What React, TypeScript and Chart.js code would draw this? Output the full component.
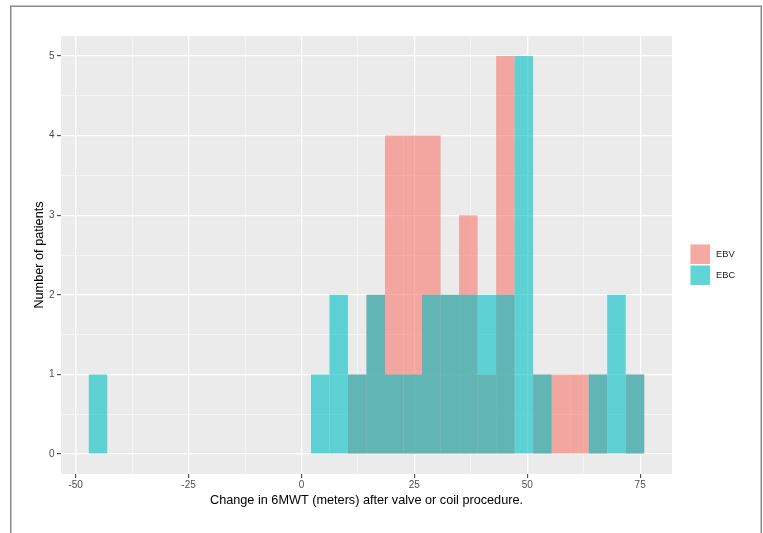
import React, { useEffect, useRef } from "react";
import { Chart, registerables } from "chart.js";

Chart.register(...registerables);

// Histogram bin centres (shared bins, width ~4.1)
const binCenters = [
  -45.05, -40.95, -36.85, -32.75, -28.65, -24.55, -20.45, -16.35, -12.25, -8.15,
  -4.05, 0.05, 4.15, 8.25, 12.35, 16.45, 20.55, 24.65, 28.75, 32.85,
  36.95, 41.05, 45.15, 49.25, 53.35, 57.45, 61.55, 65.65, 69.75, 73.85,
];

const ebvCounts = [
  0, 0, 0, 0, 0, 0, 0, 0, 0, 0,
  0, 0, 0, 0, 1, 2, 4, 4, 4, 2,
  3, 1, 5, 0, 1, 1, 1, 1, 0, 1,
];

const ebcCounts = [
  1, 0, 0, 0, 0, 0, 0, 0, 0, 0,
  0, 0, 1, 2, 1, 2, 1, 1, 2, 2,
  2, 2, 2, 5, 1, 0, 0, 1, 2, 1,
];

const seriesNames = ["EBV", "EBC"];
const xTickValues = [-50, -37.5, -25, -12.5, 0, 12.5, 25, 37.5, 50, 62.5, 75];
const xMajorTicks = [-50, -25, 0, 25, 50, 75];
const yTickValues = [0, 0.5, 1, 1.5, 2, 2.5, 3, 3.5, 4, 4.5, 5];
const yMajorTicks = [0, 1, 2, 3, 4, 5];

const xTitle = "Change in 6MWT (meters) after valve or coil procedure.";
const yTitle = "Number of patients";

const EBV_FILL = "rgba(248,118,109,0.6)";
const EBC_FILL = "rgba(0,191,196,0.6)";
const FONT = "'Liberation Sans', Arial, Helvetica, sans-serif";

const isMajor = (v: number, list: number[]) => list.some((m) => Math.abs(m - v) < 1e-9);

const decorPlugin = {
  id: "decor",
  beforeDraw(chart: any) {
    const { ctx, chartArea } = chart;
    ctx.save();
    ctx.fillStyle = "#ffffff";
    ctx.fillRect(0, 0, chart.width, chart.height);
    ctx.fillStyle = "#EBEBEB";
    ctx.fillRect(chartArea.left, chartArea.top, chartArea.right - chartArea.left, chartArea.bottom - chartArea.top);
    ctx.restore();
  },
  afterDraw(chart: any) {
    const { ctx, chartArea } = chart;
    ctx.save();
    // outer frame
    ctx.strokeStyle = "#8a8a8a";
    ctx.lineWidth = 1.5;
    ctx.beginPath();
    ctx.moveTo(10.75, 533);
    ctx.lineTo(10.75, 6.25);
    ctx.lineTo(761.25, 6.25);
    ctx.lineTo(761.25, 533);
    ctx.stroke();

    // axis titles
    ctx.fillStyle = "#000000";
    ctx.font = `12.7px ${FONT}`;
    ctx.textAlign = "center";
    ctx.textBaseline = "alphabetic";
    ctx.fillText(xTitle, (chartArea.left + chartArea.right) / 2, 504);
    ctx.save();
    ctx.translate(43, (chartArea.top + chartArea.bottom) / 2);
    ctx.rotate(-Math.PI / 2);
    ctx.fillText(yTitle, 0, 0);
    ctx.restore();

    // legend
    const fills = [EBV_FILL, EBC_FILL];
    const keyX = 690.5;
    const keyY = [244.5, 265.5];
    const keySize = 19.5;
    for (let i = 0; i < 2; i++) {
      ctx.fillStyle = "#F2F2F2";
      ctx.fillRect(keyX, keyY[i], keySize, keySize);
      ctx.fillStyle = fills[i];
      ctx.fillRect(keyX, keyY[i], keySize, keySize);
      ctx.fillStyle = "#1a1a1a";
      ctx.font = `9.3px ${FONT}`;
      ctx.textAlign = "left";
      ctx.textBaseline = "middle";
      ctx.fillText(seriesNames[i], 716, keyY[i] + keySize / 2 + 0.3);
    }
    ctx.restore();
  },
};

const toPoints = (counts: number[]) =>
  binCenters.map((x, i) => ({ x, y: counts[i] === 0 ? null : counts[i] }));

export default function App() {
  const canvasRef = useRef<HTMLCanvasElement | null>(null);

  useEffect(() => {
    if (!canvasRef.current) return;
    const chart = new Chart(canvasRef.current, {
      type: "bar",
      data: {
        datasets: [
          {
            label: seriesNames[1],
            data: toPoints(ebcCounts),
            backgroundColor: EBC_FILL,
            borderWidth: 0,
            inflateAmount: 0,
            grouped: false,
            barPercentage: 1,
            categoryPercentage: 1,
            order: 0,
          } as any,
          {
            label: seriesNames[0],
            data: toPoints(ebvCounts),
            backgroundColor: EBV_FILL,
            borderWidth: 0,
            inflateAmount: 0,
            grouped: false,
            barPercentage: 1,
            categoryPercentage: 1,
            order: 1,
          } as any,
        ],
      },
      options: {
        responsive: false,
        animation: false,
        devicePixelRatio: 1,
        layout: { padding: { left: 0, right: 91, top: 36, bottom: 0 } },
        plugins: {
          legend: { display: false },
          tooltip: { enabled: false },
          title: { display: false },
        },
        scales: {
          x: {
            type: "linear",
            min: -53.25,
            max: 82.05,
            offset: false,
            afterFit(scale: any) {
              scale.height = 59;
            },
            afterBuildTicks(scale: any) {
              scale.ticks = xTickValues.map((v) => ({ value: v }));
            },
            border: { display: false },
            grid: {
              drawOnChartArea: true,
              drawTicks: true,
              tickLength: 4,
              offset: false,
              color: (c: any) => (isMajor(c.tick?.value, xMajorTicks) ? "#ffffff" : "rgba(255,255,255,0.75)"),
              lineWidth: (c: any) => (isMajor(c.tick?.value, xMajorTicks) ? 1.3 : 0.6),
              tickColor: (c: any) => (isMajor(c.tick?.value, xMajorTicks) ? "#333333" : "rgba(0,0,0,0)"),
              tickWidth: 1,
            },
            ticks: {
              autoSkip: false,
              maxRotation: 0,
              padding: 1,
              color: "#4D4D4D",
              font: { family: FONT, size: 10 },
              callback: (v: any) => (isMajor(Number(v), xMajorTicks) ? String(v) : ""),
            },
          },
          y: {
            type: "linear",
            min: -0.25,
            max: 5.25,
            afterFit(scale: any) {
              scale.width = 61;
            },
            afterBuildTicks(scale: any) {
              scale.ticks = yTickValues.map((v) => ({ value: v }));
            },
            border: { display: false },
            grid: {
              drawOnChartArea: true,
              drawTicks: true,
              tickLength: 4,
              color: (c: any) => (isMajor(c.tick?.value, yMajorTicks) ? "#ffffff" : "rgba(255,255,255,0.75)"),
              lineWidth: (c: any) => (isMajor(c.tick?.value, yMajorTicks) ? 1.3 : 0.6),
              tickColor: (c: any) => (isMajor(c.tick?.value, yMajorTicks) ? "#333333" : "rgba(0,0,0,0)"),
              tickWidth: 1,
            },
            ticks: {
              autoSkip: false,
              padding: 2.5,
              color: "#4D4D4D",
              font: { family: FONT, size: 10 },
              callback: (v: any) => (isMajor(Number(v), yMajorTicks) ? String(v) : ""),
            },
          },
        },
      } as any,
      plugins: [decorPlugin],
    });
    return () => chart.destroy();
  }, []);

  return (
    <div style={{ position: "absolute", left: 0, top: 0, width: 763, height: 533, background: "#fff" }}>
      <canvas ref={canvasRef} width={763} height={533} style={{ display: "block" }} />
    </div>
  );
}
